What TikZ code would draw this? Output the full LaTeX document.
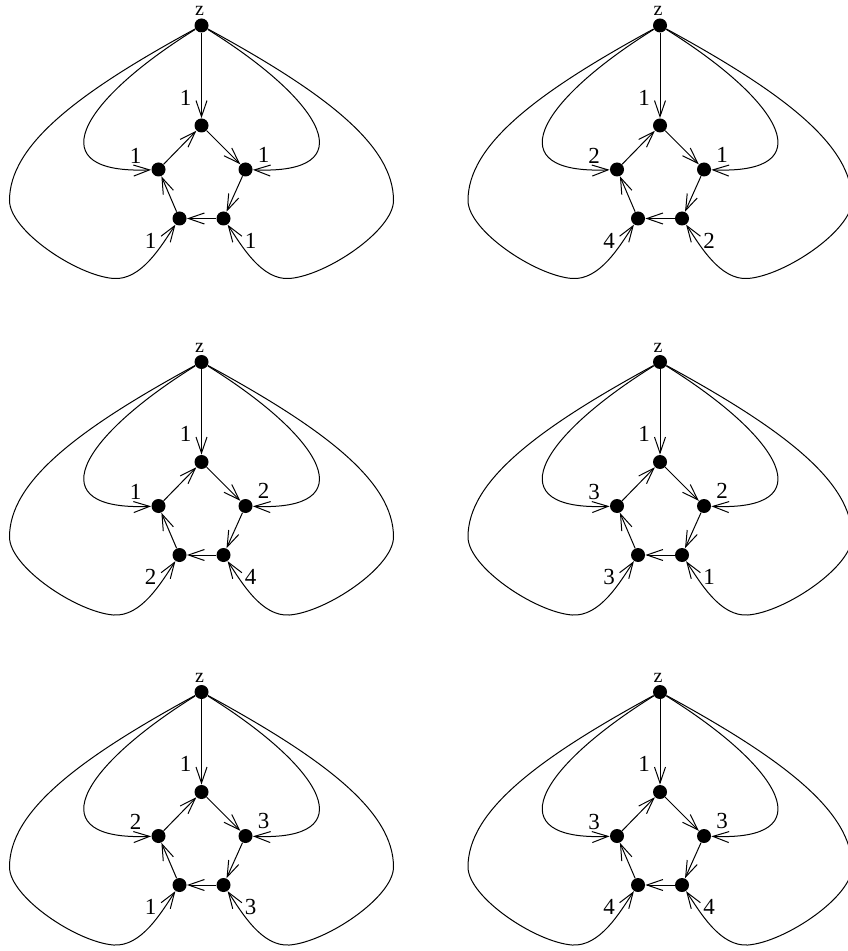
\documentclass[tikz,border=0pt]{standalone}
\usepackage{fontspec}
\setmainfont{Liberation Serif}
\usetikzlibrary{arrows.meta}

\begin{document}
\begin{tikzpicture}[x=0.5pt, y=-0.5pt, every node/.style={font=\fontsize{11.5}{13}\selectfont}, vtx/.style={circle, fill=black, inner sep=0pt, minimum size=7pt}, arr/.style={-{Straight Barb[length=8pt,width=5.5pt]}, line width=0.5pt}, lbl/.style={inner sep=0pt}]
\useasboundingbox (0,0) rectangle (847,951);
\foreach \px/\py/\ta/\la/\ra/\bla/\bra in {201.5/25.5/1/1/1/1/1, 660/25.5/1/2/1/4/2, 201.5/362/1/1/2/2/4, 660/362/1/3/2/3/1, 201.5/692/1/2/3/1/3, 660/692/1/3/3/4/4}{
\begin{scope}[shift={(\px,\py)}]
\node[vtx] (z) at (0,0) {};
\node[vtx] (t) at (0,100) {};
\node[vtx] (l) at (-43,144) {};
\node[vtx] (r) at (44,144) {};
\node[vtx] (bl) at (-22,193) {};
\node[vtx] (br) at (22,193) {};
\node[lbl, font=\fontsize{10}{12}\selectfont] (zlab) at (-2,-14.5) {z};
\node[lbl] (tlab) at (-16,72) {\ta};
\node[lbl] (llab) at (-66,130) {\la};
\node[lbl] (rlab) at (62,129) {\ra};
\node[lbl] (bllab) at (-51,215) {\bla};
\node[lbl] (brlab) at (49,215) {\bra};
\draw[arr] (z) -- (t); \draw[arr] (l) -- (t); \draw[arr] (t) -- (r);
\draw[arr] (r) -- (br); \draw[arr] (br) -- (bl); \draw[arr] (bl) -- (l);
\draw[arr] (z) .. controls (-125,78) and (-162,149) .. (l);
\draw[arr] (z) .. controls (125,78) and (162,149) .. (r);
\draw[arr] (z) .. controls (-125,68) and (-192,120) .. (-192,175) .. controls (-192,205) and (-125,250) .. (-88,253) .. controls (-60,255) and (-40,220) .. (bl);
\draw[arr] (z) .. controls (125,68) and (192,120) .. (192,175) .. controls (192,205) and (125,250) .. (88,253) .. controls (60,255) and (40,220) .. (br);
\end{scope}
}
\end{tikzpicture}
\end{document}
